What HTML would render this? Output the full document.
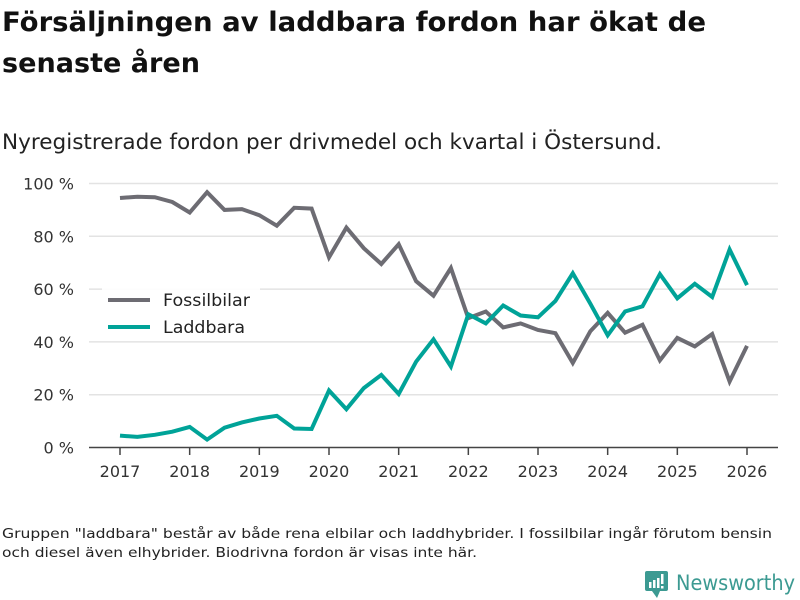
<!DOCTYPE html>
<html><head><meta charset="utf-8"><style>
body{margin:0;background:#fff;}
svg{display:block;font-family:"DejaVu Sans","Liberation Sans",sans-serif;}
</style></head><body>
<svg id="chart" width="800" height="600" viewBox="0 0 800 600">
<rect width="800" height="600" fill="#fff"/>
<text x="2" y="31" font-size="27" font-weight="bold" fill="#111" textLength="704" lengthAdjust="spacingAndGlyphs">Försäljningen av laddbara fordon har ökat de</text>
<text x="2" y="72" font-size="27" font-weight="bold" fill="#111" textLength="198" lengthAdjust="spacingAndGlyphs">senaste åren</text>
<text x="2" y="149" font-size="21" fill="#222" textLength="660" lengthAdjust="spacingAndGlyphs">Nyregistrerade fordon per drivmedel och kvartal i Östersund.</text>
<g id="grid"></g>
<g id="yticks"></g>
<g id="xticks"></g>
<g id="series"></g>
<g>
<rect x="102" y="288" width="158" height="52" fill="#fff" opacity="0.9"/>
<line x1="108" y1="300" x2="150" y2="300" stroke="#6d6c73" stroke-width="4"/>
<text x="163" y="306" font-size="17" fill="#222" textLength="87" lengthAdjust="spacingAndGlyphs">Fossilbilar</text>
<line x1="108" y1="327" x2="150" y2="327" stroke="#00a398" stroke-width="4"/>
<text x="163" y="333" font-size="17" fill="#222" textLength="82" lengthAdjust="spacingAndGlyphs">Laddbara</text>
</g>
<text font-size="13.5" fill="#222">
<tspan x="2" y="538" textLength="770" lengthAdjust="spacingAndGlyphs">Gruppen "laddbara" består av både rena elbilar och laddhybrider. I fossilbilar ingår förutom bensin</tspan>
<tspan x="2" y="557" textLength="475" lengthAdjust="spacingAndGlyphs">och diesel även elhybrider. Biodrivna fordon är visas inte här.</tspan>
</text>
<g>
<rect x="645" y="571" width="23" height="20" rx="2" fill="#3c9a92"/>
<path d="M652 591 L657 598 L660 591Z" fill="#3c9a92"/>
<rect x="649" y="582" width="2.5" height="6" fill="#fff"/><rect x="653" y="580" width="2.5" height="8" fill="#fff"/><rect x="657" y="578" width="2.5" height="10" fill="#fff"/><rect x="661" y="574" width="2.5" height="10" fill="#fff"/><rect x="661" y="586" width="2.5" height="2.5" fill="#fff"/>
<text x="676" y="590" font-size="21" fill="#3c9a92" textLength="119" lengthAdjust="spacingAndGlyphs">Newsworthy</text>
</g>
</svg>
<script>
const xYears=[2017,2018,2019,2020,2021,2022,2023,2024,2025,2026];
const yTicks=[0,20,40,60,80,100];
const startYear=2017;
const fossilbilar=[94.5,95,94.8,93,89,96.7,90,90.3,88,84,90.8,90.5,72,83.3,75.5,69.5,77,63,57.5,68,49,51.5,45.5,47,44.5,43.3,32,44,51,43.5,46.5,33,41.5,38.3,43,25,38.5];
const laddbara=[4.5,4,4.8,6,7.8,3,7.5,9.5,11,12,7.2,7,21.6,14.5,22.5,27.5,20.3,32.5,41,30.7,50.5,47,53.8,50,49.3,55.5,66,54.5,42.5,51.5,53.5,65.7,56.5,62,57,75,61.5];
const NS='http://www.w3.org/2000/svg';
const X=y=>120+(y-2017)*(747-120)/9;
const Y=v=>447.5-v*(447.5-183.5)/100;
function mk(t,a,p){const e=document.createElementNS(NS,t);for(const k in a)e.setAttribute(k,a[k]);p.appendChild(e);return e;}
const grid=document.getElementById('grid'),yt=document.getElementById('yticks'),xt=document.getElementById('xticks'),se=document.getElementById('series');
yTicks.forEach(v=>{
 if(v>0){const l=mk('line',{x1:89,x2:778,y1:Y(v),y2:Y(v),stroke:'#e3e3e3','stroke-width':1.5},grid);
 
 }
 const t=mk('text',{x:74,y:Y(v)+6,'text-anchor':'end','font-size':16,fill:'#333'},yt);
 t.textContent=v+' %';
 
 
});
const ax=mk('line',{x1:89,x2:778,y1:447.5,y2:447.5,stroke:'#444','stroke-width':1.5},xt);


xYears.forEach(yr=>{
 mk('line',{x1:X(yr),x2:X(yr),y1:447,y2:455,stroke:'#444','stroke-width':1.5},xt);
 const t=mk('text',{x:X(yr),y:477,'text-anchor':'middle','font-size':16,fill:'#333'},xt);
 t.textContent=yr;
 
 
});
function line(data,color,name){
 const d=data.map((v,i)=>(i?'L':'M')+X(startYear+i*0.25).toFixed(1)+' '+Y(v).toFixed(1)).join(' ');
 const p=mk('path',{d:d,fill:'none',stroke:color,'stroke-width':4,'stroke-linejoin':'miter'},se);
 
 
}
line(fossilbilar,'#6d6c73','line-fossilbilar');
line(laddbara,'#00a398','line-laddbara');
</script>
</body></html>
